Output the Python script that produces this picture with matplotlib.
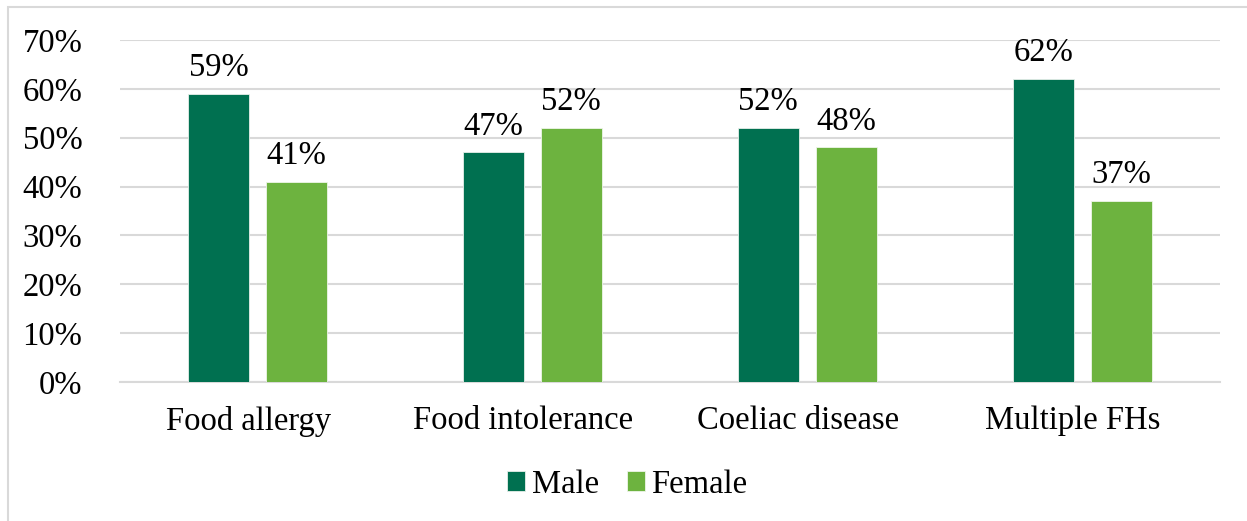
import matplotlib.pyplot as plt
import matplotlib.transforms as mtransforms
import numpy as np
from matplotlib.patches import Rectangle

# data
categorias = ["Food allergy", "Food intolerance", "Coeliac disease", "Multiple FHs"]
male = [59, 47, 52, 62]
female = [41, 52, 48, 37]
yticks = [0, 10, 20, 30, 40, 50, 60, 70]

plt.rcParams['font.family'] = ['Liberation Serif', 'DejaVu Serif']
fs = 23.5

fig = plt.figure(figsize=(12.47, 5.21), dpi=100)
ax = fig.add_axes([0.0962, 0.2668, 0.8818, 0.6564])

# borda da figura (so esquerda e topo ficam visiveis)
fig.patches.append(Rectangle((7.5 / 1247, -20 / 521), 1300 / 1247, 534 / 521, transform=fig.transFigure,
                             fill=False, edgecolor='#d9d9d9', linewidth=1.5))

x = np.arange(len(categorias))
w = 0.222
off = 0.142
b1 = ax.bar(x - off, male, w, color='#007050', edgecolor='#e6efe9', linewidth=0.6, label='Male', zorder=3)
b2 = ax.bar(x + off, female, w, color='#6db33f', edgecolor='#eef5e9', linewidth=0.6, label='Female', zorder=3)

for barras, vals in [(b1, male), (b2, female)]:
    for b, v in zip(barras, vals):
        ax.text(b.get_x() + b.get_width() / 2, v + 2.2, f'{v}%', ha='center', va='bottom', fontsize=fs)

ax.set_xlim(-0.5, 3.5)
ax.set_ylim(0, 70)
ax.set_yticks(yticks)
ax.set_yticklabels([f'{t}%' for t in yticks], fontsize=fs)
ax.set_xticks(x)
ax.set_xticklabels(categorias, fontsize=fs)
ax.tick_params(axis='both', length=0)
ax.tick_params(axis='y', pad=27)
ax.tick_params(axis='x', pad=17)

# rotulos das categorias um pouco para a esquerda, como no original
desloc = mtransforms.ScaledTranslation(-9 / 100, 0, fig.dpi_scale_trans)
for lab in ax.get_xticklabels():
    lab.set_transform(lab.get_transform() + desloc)

ax.grid(axis='y', color='#d9d9d9', linewidth=1.5, zorder=0)
for s in ['top', 'right', 'left']:
    ax.spines[s].set_visible(False)
ax.spines['bottom'].set_color('#d9d9d9')
ax.spines['bottom'].set_linewidth(1.5)

fig.legend(handles=[b1, b2], loc='center', bbox_to_anchor=(0.503, 0.07), ncol=2, frameon=False,
           fontsize=fs, handlelength=0.55, handleheight=0.55, handletextpad=0.2, columnspacing=0.86)

fig.savefig('out.png', dpi=100)
